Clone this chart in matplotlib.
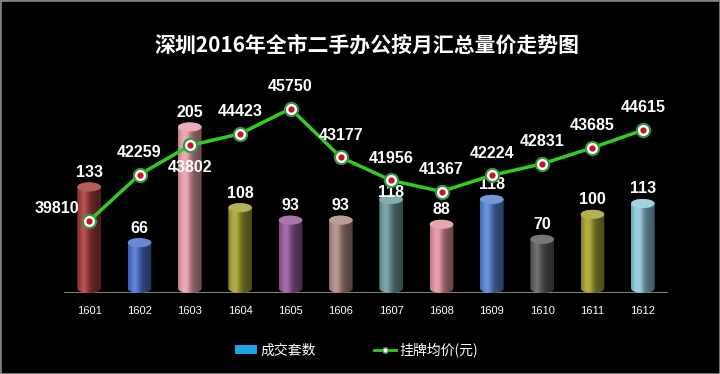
import matplotlib
matplotlib.use('Agg')
import matplotlib.pyplot as plt
import numpy as np
from matplotlib.patches import PathPatch, Ellipse, Patch, Rectangle
from matplotlib.path import Path
from matplotlib.lines import Line2D
from matplotlib.colors import to_rgb

plt.rcParams['font.family'] = ['Liberation Sans', 'Noto Sans CJK SC', 'DejaVu Sans']

# data
months = ['1601', '1602', '1603', '1604', '1605', '1606',
          '1607', '1608', '1609', '1610', '1611', '1612']
deals = [133, 66, 205, 108, 93, 93, 118, 88, 118, 70, 100, 113]
prices = [39810, 42259, 43802, 44423, 45750, 43177,
          41956, 41367, 42224, 42831, 43685, 44615]
bar_colors = ['#a8403f', '#4e74cc', '#e8a0ac', '#a8a236', '#9c5c9e', '#b08c86',
              '#6e9c9e', '#e296a2', '#5a86d4', '#606060', '#a8a236', '#90cadb']

title = '深圳2016年全市二手办公按月汇总量价走势图'

fig = plt.figure(figsize=(7.2, 3.74), dpi=100, facecolor='black')
ax = fig.add_axes([64/720, 1-293/374, 604/720, 208/374])
ax.set_facecolor('black')
ax2 = ax.twinx()

x = np.arange(len(months))
hw = 0.235     # half width of a cylinder
eh = 11.0      # ellipse height in bar units


def shade(c, k):
    r = np.array(to_rgb(c))
    if k >= 1:
        return r + (1 - r) * (k - 1)
    return r * k


def cylinder(xc, v, c):
    t1 = np.linspace(np.pi, 2*np.pi, 40)
    t2 = np.linspace(0, np.pi, 40)
    xs = np.concatenate([xc + hw*np.cos(t1), xc + hw*np.cos(t2)])
    ys = np.concatenate([eh/2 + eh/2*np.sin(t1), v - eh/2 + eh/2*np.sin(t2)])
    verts = np.column_stack([xs, ys])
    verts = np.vstack([verts, verts[:1]])
    patch = PathPatch(Path(verts, closed=True), facecolor='none', edgecolor='none')
    ax.add_patch(patch)
    # horizontal shading across the cylinder
    u = np.linspace(0, 1, 128)
    k = 0.75 + 0.45*np.exp(-((u-0.3)/0.22)**2) - 0.3*u
    img = np.array([[shade(c, kk) for kk in k]])
    im = ax.imshow(np.clip(img, 0, 1), extent=[xc-hw, xc+hw, 0, v],
                   aspect='auto', zorder=2, interpolation='bilinear')
    im.set_clip_path(patch)
    top = Ellipse((xc, v - eh/2), 2*hw, eh, facecolor=shade(c, 1.15),
                  edgecolor='none', zorder=3)
    ax.add_patch(top)


label_dy = [3] * len(deals)
label_dy[6] = -6
for xi, v, c, dy in zip(x, deals, bar_colors, label_dy):
    cylinder(xi, v, c)
    ax.text(xi, v + dy, str(v), color='white', fontsize=11.5, fontweight='bold',
            ha='center', va='bottom', zorder=5)

ax.axhline(0, color='#808080', lw=1.5, zorder=1)
ax.set_xlim(-0.5, 11.5)
ax.set_ylim(0, 250)
ax.set_xticks(x)
ax.set_xticklabels(months, color='white', fontsize=8)
ax.tick_params(axis='x', length=0, pad=9)
ax.set_yticks([])
for s in ax.spines.values():
    s.set_visible(False)

# price line
ax2.plot(x, prices, color='#33cc1f', lw=2.5, zorder=4)
ax2.plot(x, prices, 'o', ms=9.5, mfc='white', mec='#2e9a44', mew=1.5, zorder=5)
ax2.plot(x, prices, 'o', ms=4.5, mfc='#d0102a', mec='none', zorder=6)
ax2.set_ylim(36000, 47000)
ax2.set_yticks([])
for s in ax2.spines.values():
    s.set_visible(False)

offsets = [(0, 16)] * len(prices)
offsets[0] = (-23, 9)
offsets[2] = (0, -16)
for xi, p, off in zip(x, prices, offsets):
    ax2.annotate(str(p), (xi, p), xytext=off, textcoords='offset points',
                 color='white', fontsize=11.5, fontweight='bold',
                 ha='center', va='center', zorder=7)

fig.text(0.51, 1-45/374, title, color='white', fontsize=15, fontweight='bold',
         ha='center', va='center', family=['Noto Sans CJK SC', 'DejaVu Sans'])

handles = [Patch(facecolor='#1ea4e4', edgecolor='none'),
           Line2D([], [], color='#33cc1f', lw=2, marker='o', ms=4,
                  mfc='white', mec='#2e9a44')]
fig.legend(handles, ['成交套数', '挂牌均价(元)'], loc='center',
           bbox_to_anchor=(0.495, 1-350/374), ncol=2, frameon=False,
           labelcolor='white', columnspacing=4.2, handlelength=1.6,
           handletextpad=0.2,
           prop={'family': ['Noto Sans CJK SC', 'DejaVu Sans'], 'size': 10})

fig.add_artist(Rectangle((0, 0), 1, 1, transform=fig.transFigure,
                         fill=False, edgecolor='#808080', lw=2))

fig.savefig('out.png', dpi=100, facecolor='black')
